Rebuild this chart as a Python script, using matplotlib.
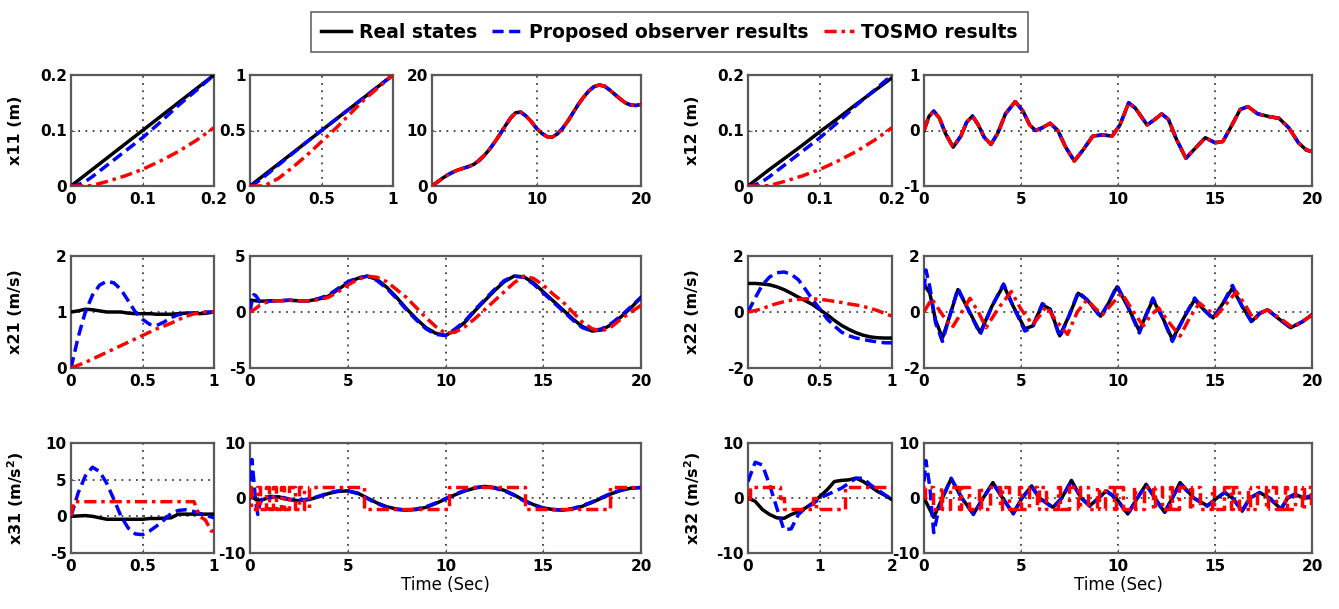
import matplotlib
matplotlib.use("Agg")
import matplotlib.pyplot as plt
from matplotlib.lines import Line2D

plt.rcParams['font.family'] = ['DejaVu Sans']

# ------------------------------------------------------------------ data
# Row 1: x11 / x12 (position)
t11a = [0, 0.01, 0.02, 0.03, 0.05, 0.075, 0.1, 0.125, 0.15, 0.175, 0.2]
real11a = [0, 0.01, 0.02, 0.03, 0.05, 0.075, 0.1, 0.125, 0.15, 0.175, 0.2]
prop11a = [0, 0.002, 0.008, 0.017, 0.037, 0.062, 0.087, 0.115, 0.145, 0.172, 0.2]
tosmo11a = [0, 0, 0, 0.001, 0.008, 0.018, 0.03, 0.045, 0.062, 0.082, 0.105]

t11b = [0, 0.05, 0.1, 0.2, 0.3, 0.4, 0.5, 0.6, 0.7, 0.8, 0.9, 1.0]
real11b = [0, 0.05, 0.1, 0.2, 0.3, 0.4, 0.5, 0.6, 0.7, 0.8, 0.9, 1.0]
prop11b = [0, 0.035, 0.085, 0.19, 0.295, 0.4, 0.5, 0.6, 0.7, 0.8, 0.9, 1.0]
tosmo11b = [0, 0, 0.0, 0.07, 0.17, 0.28, 0.4, 0.52, 0.65, 0.78, 0.89, 1.0]

t11c = [0, 0.5, 1, 1.5, 2, 2.5, 3, 3.5, 4, 4.5, 5, 5.5, 6, 6.5, 7, 7.5, 8, 8.5, 9, 9.5,
        10, 10.5, 11, 11.5, 12, 12.5, 13, 13.5, 14, 14.5, 15, 15.5, 16, 16.5, 17, 17.5,
        18, 18.5, 19, 19.5, 20]
real11c = [0, 0.7, 1.4, 2.0, 2.5, 2.9, 3.2, 3.5, 3.9, 4.6, 5.5, 6.6, 7.9, 9.3, 10.8, 12.2,
           13.2, 13.3, 12.6, 11.6, 10.4, 9.5, 8.9, 8.8, 9.4, 10.4, 11.7, 13.2, 14.7, 16.0,
           17.1, 17.9, 18.2, 18.0, 17.3, 16.5, 15.7, 15.0, 14.6, 14.5, 14.7]
prop11c = real11c
tosmo11c = real11c

t12a = [0, 0.01, 0.02, 0.03, 0.05, 0.075, 0.1, 0.125, 0.15, 0.175, 0.2]
real12a = [0, 0.01, 0.02, 0.03, 0.049, 0.073, 0.098, 0.122, 0.147, 0.171, 0.195]
prop12a = [0, 0.002, 0.008, 0.017, 0.037, 0.062, 0.087, 0.115, 0.145, 0.172, 0.2]
tosmo12a = [0, 0, 0, 0.001, 0.008, 0.018, 0.03, 0.045, 0.062, 0.082, 0.105]

t12b = [0, 0.25, 0.5, 0.8, 1.1, 1.5, 1.9, 2.2, 2.5, 2.8, 3.1, 3.45, 3.8, 4.2, 4.7, 5.1,
        5.45, 5.75, 6.1, 6.5, 6.9, 7.3, 7.75, 8.2, 8.7, 9.2, 9.7, 10.1, 10.55, 10.9, 11.5,
        11.9, 12.25, 12.6, 13.0, 13.5, 13.9, 14.5, 15.0, 15.4, 15.8, 16.3, 16.7, 17.2,
        17.8, 18.3, 18.8, 19.3, 19.7, 20.0]
real12b = [0, 0.25, 0.35, 0.22, -0.05, -0.3, -0.1, 0.15, 0.26, 0.1, -0.12, -0.25, -0.05,
           0.3, 0.52, 0.35, 0.1, 0.0, 0.05, 0.13, 0.0, -0.3, -0.55, -0.35, -0.1, -0.08,
           -0.1, 0.1, 0.5, 0.4, 0.1, 0.2, 0.3, 0.2, -0.15, -0.5, -0.35, -0.13, -0.22, -0.2,
           0.05, 0.38, 0.43, 0.3, 0.25, 0.22, 0.05, -0.22, -0.35, -0.38]
prop12b = real12b
tosmo12b = real12b

# Row 2: x21 / x22 (velocity)
t21a = [0, 0.05, 0.1, 0.15, 0.2, 0.25, 0.3, 0.35, 0.4, 0.45, 0.5, 0.55, 0.6, 0.65, 0.7,
        0.75, 0.8, 0.85, 0.9, 0.95, 1.0]
real21a = [1.0, 1.02, 1.05, 1.04, 1.02, 1.0, 1.0, 1.0, 0.98, 0.97, 0.97, 0.97, 0.96, 0.96,
           0.96, 0.97, 0.98, 0.98, 0.97, 0.98, 1.0]
prop21a = [0, 0.55, 1.0, 1.3, 1.48, 1.55, 1.52, 1.4, 1.2, 1.0, 0.87, 0.78, 0.76, 0.82, 0.9,
           0.95, 0.97, 0.98, 0.99, 1.0, 1.0]
tosmo21a = [0, 0.05, 0.1, 0.16, 0.22, 0.28, 0.34, 0.4, 0.46, 0.52, 0.58, 0.64, 0.7, 0.75,
            0.8, 0.86, 0.92, 0.96, 0.99, 1.0, 1.0]

t21b = [0, 0.1, 0.2, 0.3, 0.4, 0.5, 0.75, 1.0, 1.5, 2.0, 2.5, 3.0, 3.5, 4.0, 4.5, 5.0, 5.5,
        6.0, 6.5, 7.0, 7.5, 8.0, 8.5, 9.0, 9.5, 10.0, 10.5, 11.0, 11.5, 12.0, 12.5, 13.0,
        13.5, 14.0, 14.5, 15.0, 15.5, 16.0, 16.5, 17.0, 17.5, 18.0, 18.5, 19.0, 19.5, 20.0]
real21b = [1.0, 1.05, 1.03, 1.0, 0.98, 0.97, 0.97, 1.0, 1.0, 1.05, 1.0, 1.0, 1.15, 1.4, 2.0,
           2.6, 3.0, 3.2, 2.9, 2.2, 1.3, 0.3, -0.6, -1.4, -1.9, -2.1, -1.6, -0.9, 0.1, 1.0,
           1.9, 2.7, 3.2, 3.15, 2.6, 1.8, 1.0, 0.2, -0.6, -1.3, -1.7, -1.6, -1.1, -0.4, 0.4,
           1.3]
prop21b = [0, 1.0, 1.55, 1.45, 1.2, 0.9, 0.8, 0.98, 1.0, 1.05, 1.0, 1.0, 1.2, 1.5, 2.1,
           2.7, 3.05, 3.2, 2.8, 2.1, 1.2, 0.2, -0.7, -1.5, -2.0, -2.1, -1.5, -0.8, 0.2, 1.1,
           2.0, 2.8, 3.2, 3.1, 2.5, 1.7, 0.9, 0.1, -0.7, -1.4, -1.7, -1.5, -1.0, -0.3, 0.5,
           1.3]
tosmo21b = [0, 0.1, 0.2, 0.33, 0.46, 0.6, 0.8, 1.0, 1.0, 1.05, 1.0, 1.0, 1.1, 1.3, 1.8,
            2.4, 2.9, 3.2, 3.1, 2.7, 2.0, 1.3, 0.4, -0.5, -1.3, -1.9, -1.8, -1.3, -0.6, 0.2,
            1.0, 1.8, 2.6, 3.2, 3.0, 2.4, 1.6, 0.9, 0.0, -0.9, -1.5, -1.7, -1.3, -0.6, 0.0,
            0.6]

t22a = [0, 0.05, 0.1, 0.15, 0.2, 0.25, 0.3, 0.35, 0.4, 0.45, 0.5, 0.55, 0.6, 0.65, 0.7,
        0.75, 0.8, 0.85, 0.9, 0.95, 1.0]
real22a = [1.02, 1.02, 1.0, 0.97, 0.9, 0.8, 0.67, 0.53, 0.4, 0.26, 0.08, -0.1, -0.3, -0.48,
           -0.62, -0.74, -0.83, -0.89, -0.92, -0.93, -0.93]
prop22a = [0, 0.5, 0.97, 1.25, 1.4, 1.43, 1.35, 1.15, 0.8, 0.43, 0.1, -0.25, -0.5, -0.72,
           -0.85, -0.93, -0.98, -1.03, -1.07, -1.1, -1.1]
tosmo22a = [0, 0.05, 0.12, 0.22, 0.3, 0.37, 0.42, 0.45, 0.47, 0.47, 0.45, 0.42, 0.38, 0.34,
            0.29, 0.25, 0.2, 0.13, 0.05, -0.05, -0.15]

t22b_real = [0, 0.3, 0.6, 0.95, 1.3, 1.75, 2.2, 2.9, 3.5, 4.1, 4.6, 5.2, 5.6, 6.1, 6.5, 7.0,
             7.5, 7.95, 8.4, 9.1, 9.5, 9.95, 10.5, 11.1, 11.45, 11.8, 12.3, 12.8, 13.4,
             13.95, 14.4, 14.9, 15.4, 15.9, 16.4, 16.9, 17.3, 17.7, 18.3, 18.9, 19.5, 20]
real22b = [1.0, 0.67, -0.3, -0.93, -0.2, 0.8, 0.2, -0.74, 0.2, 0.96, 0.2, -0.6, -0.5, 0.26,
           0.1, -0.85, -0.1, 0.67, 0.44, -0.15, 0.3, 0.9, 0.2, -0.68, -0.1, 0.44, -0.2,
           -0.98, -0.2, 0.44, 0.1, -0.21, 0.3, 0.85, 0.2, -0.33, -0.05, 0.08, -0.25, -0.56,
           -0.35, -0.1]
t22b_prop = [0, 0.1, 0.3, 0.6, 0.95, 1.3, 1.75, 2.2, 2.9, 3.5, 4.1, 4.6, 5.2, 5.6, 6.1, 6.5,
             7.0, 7.5, 7.95, 8.4, 9.1, 9.5, 9.95, 10.5, 11.1, 11.45, 11.8, 12.3, 12.8, 13.4,
             13.95, 14.4, 14.9, 15.4, 15.9, 16.4, 16.9, 17.3, 17.7, 18.3, 18.9, 19.5, 20]
prop22b = [0.8, 1.5, 0.9, -0.4, -1.05, -0.2, 0.85, 0.2, -0.8, 0.2, 1.0, 0.2, -0.68, -0.55,
           0.3, 0.1, -0.9, -0.1, 0.72, 0.44, -0.18, 0.3, 0.95, 0.2, -0.75, -0.1, 0.5, -0.2,
           -1.05, -0.2, 0.5, 0.1, -0.25, 0.3, 0.95, 0.2, -0.38, -0.05, 0.1, -0.25, -0.56,
           -0.35, -0.1]
t22b_tosmo = [0, 0.4, 1.0, 1.45, 1.95, 2.37, 2.8, 3.2, 3.8, 4.5, 5.0, 5.6, 6.0, 6.3, 6.8,
              7.4, 7.9, 8.4, 8.8, 9.2, 9.7, 10.2, 10.8, 11.3, 11.7, 12.1, 12.6, 13.2, 13.7,
              14.2, 14.6, 15.05, 15.6, 16.1, 16.6, 17.0, 17.35, 17.7, 18.4, 19.0, 19.5, 20]
tosmo22b = [0, 0.47, -0.15, -0.56, 0.0, 0.49, 0.0, -0.56, 0.1, 0.73, 0.1, -0.45, -0.1, 0.2,
            -0.3, -0.8, 0.0, 0.44, 0.15, -0.1, 0.3, 0.67, 0.0, -0.5, -0.1, 0.14, -0.35,
            -0.86, -0.2, 0.32, 0.1, -0.15, 0.3, 0.73, 0.2, -0.27, -0.05, 0.08, -0.25, -0.55,
            -0.35, -0.1]

# Row 3: x31 / x32 (acceleration)
t31a = [0, 0.05, 0.1, 0.15, 0.2, 0.25, 0.3, 0.35, 0.4, 0.45, 0.5, 0.55, 0.6, 0.65, 0.7,
        0.75, 0.8, 0.85, 0.9, 0.95, 1.0]
real31a = [0, 0.05, 0.1, 0.0, -0.2, -0.4, -0.4, -0.4, -0.4, -0.4, -0.4, -0.3, -0.3, -0.25,
           -0.2, 0.3, 0.3, 0.3, 0.3, 0.3, 0.3]
prop31a = [0, 3.2, 5.5, 6.7, 6.1, 4.5, 2.3, 0.0, -1.6, -2.4, -2.5, -2.0, -1.3, -0.5, 0.4,
           0.8, 0.9, 0.7, 0.4, 0.1, -0.2]
t31a_tosmo = [0, 0.02, 0.86, 0.9, 0.94, 0.98, 1.0]
tosmo31a = [0, 2, 2, 0, -0.5, -2, -2]

t31b = [0, 0.1, 0.2, 0.3, 0.4, 0.5, 0.75, 1.0, 1.5, 2.0, 2.5, 3.0, 3.5, 4.0, 4.5, 5.0, 5.5,
        6.0, 6.5, 7.0, 7.5, 8.0, 8.5, 9.0, 9.5, 10.0, 10.5, 11.0, 11.5, 12.0, 12.5, 13.0,
        13.5, 14.0, 14.5, 15.0, 15.5, 16.0, 16.5, 17.0, 17.5, 18.0, 18.5, 19.0, 19.5, 20.0]
real31b = [0, 0.1, 0.0, -0.3, -0.4, -0.4, -0.2, 0.3, 0.2, -0.3, -0.5, -0.3, 0.2, 0.8, 1.2,
           1.3, 0.9, 0.0, -0.9, -1.6, -2.0, -2.2, -2.1, -1.7, -1.0, -0.2, 0.6, 1.3, 1.8, 2.1,
           1.9, 1.4, 0.6, -0.4, -1.2, -1.8, -2.1, -2.2, -2.0, -1.5, -0.8, 0.0, 0.8, 1.4, 1.8,
           1.9]
prop31b = [0, 7.0, 3.0, -1.0, -3.0, -1.0, 0.5, 0.0, 0.3, -0.2, -0.4, -0.2, 0.3, 0.9, 1.3,
           1.3, 0.8, -0.1, -1.0, -1.7, -2.1, -2.2, -2.0, -1.6, -0.9, -0.1, 0.7, 1.4, 1.9,
           2.1, 1.8, 1.3, 0.5, -0.5, -1.3, -1.9, -2.1, -2.2, -1.9, -1.4, -0.7, 0.1, 0.9, 1.5,
           1.8, 1.9]
t31b_tosmo = [0, 0.05, 0.35, 0.5, 0.8, 0.95, 1.2, 1.35, 1.6, 1.75, 2.0, 2.3, 2.5, 2.75,
              3.0, 5.85, 10.2, 14.05, 18.4, 20]
tosmo31b = [2, -2, 2, -2, 2, -2, 2, -2, 2, -2, 2, -2, 2, -2, 2, -2, 2, -2, 2, 2]

t32a = [0, 0.1, 0.2, 0.3, 0.4, 0.5, 0.6, 0.7, 0.8, 0.9, 1.0, 1.1, 1.2, 1.3, 1.4, 1.5, 1.6,
        1.7, 1.8, 1.9, 2.0]
real32a = [0, -0.6, -2.1, -3.0, -3.6, -3.7, -3.0, -2.5, -1.8, -0.9, 0.3, 1.5, 3.0, 3.2, 3.3,
           3.6, 3.0, 2.1, 1.2, 0.5, -0.3]
prop32a = [3.0, 6.5, 6.0, 2.4, -1.8, -5.8, -5.6, -3.0, -1.8, -1.1, 0.0, 0.6, 1.2, 1.8, 2.7,
           3.6, 3.6, 2.4, 1.5, 0.6, -0.3]
t32a_tosmo = [0, 0.03, 0.45, 0.5, 0.9, 0.95, 1.35, 2.0]
tosmo32a = [0, 2, 0, -2, 0, -2, 2, 2]

t32b_real = [0, 0.5, 0.95, 1.4, 1.95, 2.55, 3.05, 3.55, 4.05, 4.6, 5.05, 5.55, 5.95, 6.65,
             7.1, 7.6, 8.1, 8.55, 9.0, 9.4, 9.9, 10.5, 11.0, 11.45, 11.9, 12.4, 12.8, 13.2,
             13.9, 14.6, 15.1, 15.5, 15.9, 16.4, 16.8, 17.3, 17.8, 18.4, 18.75, 19.1, 19.6,
             20]
real32b = [0, -3.5, 0, 3.5, 0, -2.9, 0, 2.8, 0, -2.8, 0, 2.2, 0, -1.7, 0, 3.2, 0, -1.4, 0,
           1.3, 0, -2.9, 0, 2.5, 0, -2.6, 0, 2.8, 0, -1.4, 0, 1.0, 0, -2.3, 0, 1.0, 0, -2.0,
           0, 0.7, 0, 0.1]
t32b_prop = [0, 0.1, 0.3, 0.5, 0.7, 0.95, 1.4, 1.95, 2.55, 3.05, 3.55, 4.05, 4.6, 5.05,
             5.55, 5.95, 6.65, 7.1, 7.6, 8.1, 8.55, 9.0, 9.4, 9.9, 10.5, 11.0, 11.45, 11.9,
             12.4, 12.8, 13.2, 13.9, 14.6, 15.1, 15.5, 15.9, 16.4, 16.8, 17.3, 17.8, 18.4,
             18.75, 19.1, 19.6, 20]
prop32b = [3.0, 6.8, 2.0, -6.3, -3.0, 0, 3.6, 0, -3.0, 0, 2.7, 0, -2.9, 0, 2.0, 0, -1.8, 0,
           3.0, 0, -1.5, 0, 1.2, 0, -3.0, 0, 2.4, 0, -2.7, 0, 2.6, 0, -1.5, 0, 1.0, 0, -2.4,
           0, 0.9, 0, -2.0, 0, 0.6, 0, 0.5]
t32b_tosmo = [0, 0.03, 0.45, 0.9, 0.95, 1.35, 1.8, 1.9, 2.3, 2.85, 2.95, 3.4, 3.9, 4.0,
              4.4, 4.9, 5.0, 5.4, 5.85, 5.95, 6.3, 6.9, 7.0, 7.45, 7.95, 8.05, 8.45, 8.9,
              9.0, 9.35, 9.8, 9.9, 10.25, 10.8, 10.9, 11.35, 11.8, 11.9, 12.25, 12.7, 12.8,
              13.15, 13.7, 13.8, 14.25, 14.85, 14.95, 15.45, 15.85, 15.95, 16.25, 16.7, 16.8,
              17.15, 17.65, 17.75, 18.15, 18.6, 18.7, 19.1, 19.5, 19.6, 19.95, 20]
tosmo32b = [0, 2, -2, 2, -2, 2, -2, 2, -2, 2, -2, 2, -2, 2, -2, 2, -2, 2, -2, 2, -2, 2, -2,
            2, -2, 2, -2, 2, -2, 2, -2, 2, -2, 2, -2, 2, -2, 2, -2, 2, -2, 2, -2, 2, -2, 2,
            -2, 2, -2, 2, -2, 2, -2, 2, -2, 2, -2, 2, -2, 2, -2, 2, -2, -2]

legend_labels = ["Real states", "Proposed observer results", "TOSMO results"]
ylabels_left = ["x11 (m)", "x21 (m/s)", r"x31 (m/s$^\mathbf{2}$)"]
ylabels_right = ["x12 (m)", "x22 (m/s)", r"x32 (m/s$^\mathbf{2}$)"]
xlabel_text = "Time (Sec)"

# ------------------------------------------------------------------ styles
W, H = 1339, 609
fig = plt.figure(figsize=(W / 100, H / 100), dpi=100)

LW = 2.5
S_REAL = dict(color='black', lw=LW, ls='-', zorder=3)
S_PROP = dict(color='#0000ff', lw=LW, ls=(0, (3.2, 1.6)), zorder=4)
S_TOSMO = dict(color='#ff0000', lw=LW, ls=(0, (3.5, 1.4, 1.0, 1.4)), zorder=5)

ROWS = [(75, 186), (256, 368), (443, 553)]
COL_A = (71, 214)
COL_B = (250, 393)
COL_C = (432, 641)
COL_LW = (250, 641)
COL_D = (748, 892)
COL_E = (924, 1312)
TICK_FS = 11


def fmt(v):
    return ('%g' % v)


def make_ax(col, row, xlim, ylim, xticks, yticks):
    x0, x1 = col
    y0, y1 = row
    ax = fig.add_axes([x0 / W, 1 - y1 / H, (x1 - x0) / W, (y1 - y0) / H])
    ax.set_xlim(xlim)
    ax.set_ylim(ylim)
    ax.set_xticks(xticks)
    ax.set_yticks(yticks)
    ax.set_xticklabels([fmt(v) for v in xticks], fontweight='bold', fontsize=TICK_FS)
    ax.set_yticklabels([fmt(v) for v in yticks], fontweight='bold', fontsize=TICK_FS)
    ax.tick_params(direction='in', length=3, width=0.8, color='#606060')
    ax.tick_params(axis='x', pad=4)
    ax.tick_params(axis='y', pad=3)
    ax.grid(True, color='#404040', ls=(0, (1, 3)), lw=1.3)
    for sp in ax.spines.values():
        sp.set_color('#5a5a5a')
        sp.set_linewidth(1.6)
    return ax


def draw(ax, tr, r, tp, p, tt, s, steps=False):
    ax.plot(tr, r, **S_REAL)
    ax.plot(tp, p, **S_PROP)
    if steps:
        ax.plot(tt, s, drawstyle='steps-post', **S_TOSMO)
    else:
        ax.plot(tt, s, **S_TOSMO)


# Row 1
ax = make_ax(COL_A, ROWS[0], (0, 0.2), (0, 0.2), [0, 0.1, 0.2], [0, 0.1, 0.2])
draw(ax, t11a, real11a, t11a, prop11a, t11a, tosmo11a)
ax = make_ax(COL_B, ROWS[0], (0, 1), (0, 1), [0, 0.5, 1], [0, 0.5, 1])
draw(ax, t11b, real11b, t11b, prop11b, t11b, tosmo11b)
ax = make_ax(COL_C, ROWS[0], (0, 20), (0, 20), [0, 10, 20], [0, 10, 20])
draw(ax, t11c, real11c, t11c, prop11c, t11c, tosmo11c)
ax = make_ax(COL_D, ROWS[0], (0, 0.2), (0, 0.2), [0, 0.1, 0.2], [0, 0.1, 0.2])
draw(ax, t12a, real12a, t12a, prop12a, t12a, tosmo12a)
ax = make_ax(COL_E, ROWS[0], (0, 20), (-1, 1), [0, 5, 10, 15, 20], [-1, 0, 1])
draw(ax, t12b, real12b, t12b, prop12b, t12b, tosmo12b)

# Row 2
ax = make_ax(COL_A, ROWS[1], (0, 1), (0, 2), [0, 0.5, 1], [0, 1, 2])
draw(ax, t21a, real21a, t21a, prop21a, t21a, tosmo21a)
ax = make_ax(COL_LW, ROWS[1], (0, 20), (-5, 5), [0, 5, 10, 15, 20], [-5, 0, 5])
draw(ax, t21b, real21b, t21b, prop21b, t21b, tosmo21b)
ax = make_ax(COL_D, ROWS[1], (0, 1), (-2, 2), [0, 0.5, 1], [-2, 0, 2])
draw(ax, t22a, real22a, t22a, prop22a, t22a, tosmo22a)
ax = make_ax(COL_E, ROWS[1], (0, 20), (-2, 2), [0, 5, 10, 15, 20], [-2, 0, 2])
draw(ax, t22b_real, real22b, t22b_prop, prop22b, t22b_tosmo, tosmo22b)

# Row 3
ax = make_ax(COL_A, ROWS[2], (0, 1), (-5, 10), [0, 0.5, 1], [-5, 0, 5, 10])
draw(ax, t31a, real31a, t31a, prop31a, t31a_tosmo, tosmo31a)
ax = make_ax(COL_LW, ROWS[2], (0, 20), (-10, 10), [0, 5, 10, 15, 20], [-10, 0, 10])
draw(ax, t31b, real31b, t31b, prop31b, t31b_tosmo, tosmo31b, steps=True)
ax.set_xlabel(xlabel_text, fontsize=12, labelpad=2)
ax = make_ax(COL_D, ROWS[2], (0, 2), (-10, 10), [0, 1, 2], [-10, 0, 10])
draw(ax, t32a, real32a, t32a, prop32a, t32a_tosmo, tosmo32a, steps=True)
ax = make_ax(COL_E, ROWS[2], (0, 20), (-10, 10), [0, 5, 10, 15, 20], [-10, 0, 10])
draw(ax, t32b_real, real32b, t32b_prop, prop32b, t32b_tosmo, tosmo32b, steps=True)
ax.set_xlabel(xlabel_text, fontsize=12, labelpad=2)

# y labels
for (y0, y1), lab in zip(ROWS, ylabels_left):
    fig.text(16 / W, 1 - (y0 + y1) / 2 / H, lab, rotation=90, ha='center', va='center',
             fontsize=11.5, fontweight='bold')
for (y0, y1), lab in zip(ROWS, ylabels_right):
    fig.text(693 / W, 1 - (y0 + y1) / 2 / H, lab, rotation=90, ha='center', va='center',
             fontsize=11.5, fontweight='bold')

# legend
handles = [Line2D([], [], **S_REAL), Line2D([], [], **S_PROP), Line2D([], [], **S_TOSMO)]
leg = fig.legend(handles, legend_labels, loc='upper center', bbox_to_anchor=(0.5, 0.995),
                 ncol=3, frameon=True, fancybox=False, edgecolor='#404040',
                 prop=dict(weight='bold', size=13.5), handlelength=1.6, handletextpad=0.4,
                 columnspacing=0.8, borderpad=0.55)
leg.get_frame().set_linewidth(1.2)

fig.savefig('out.png', dpi=100, facecolor='white')
